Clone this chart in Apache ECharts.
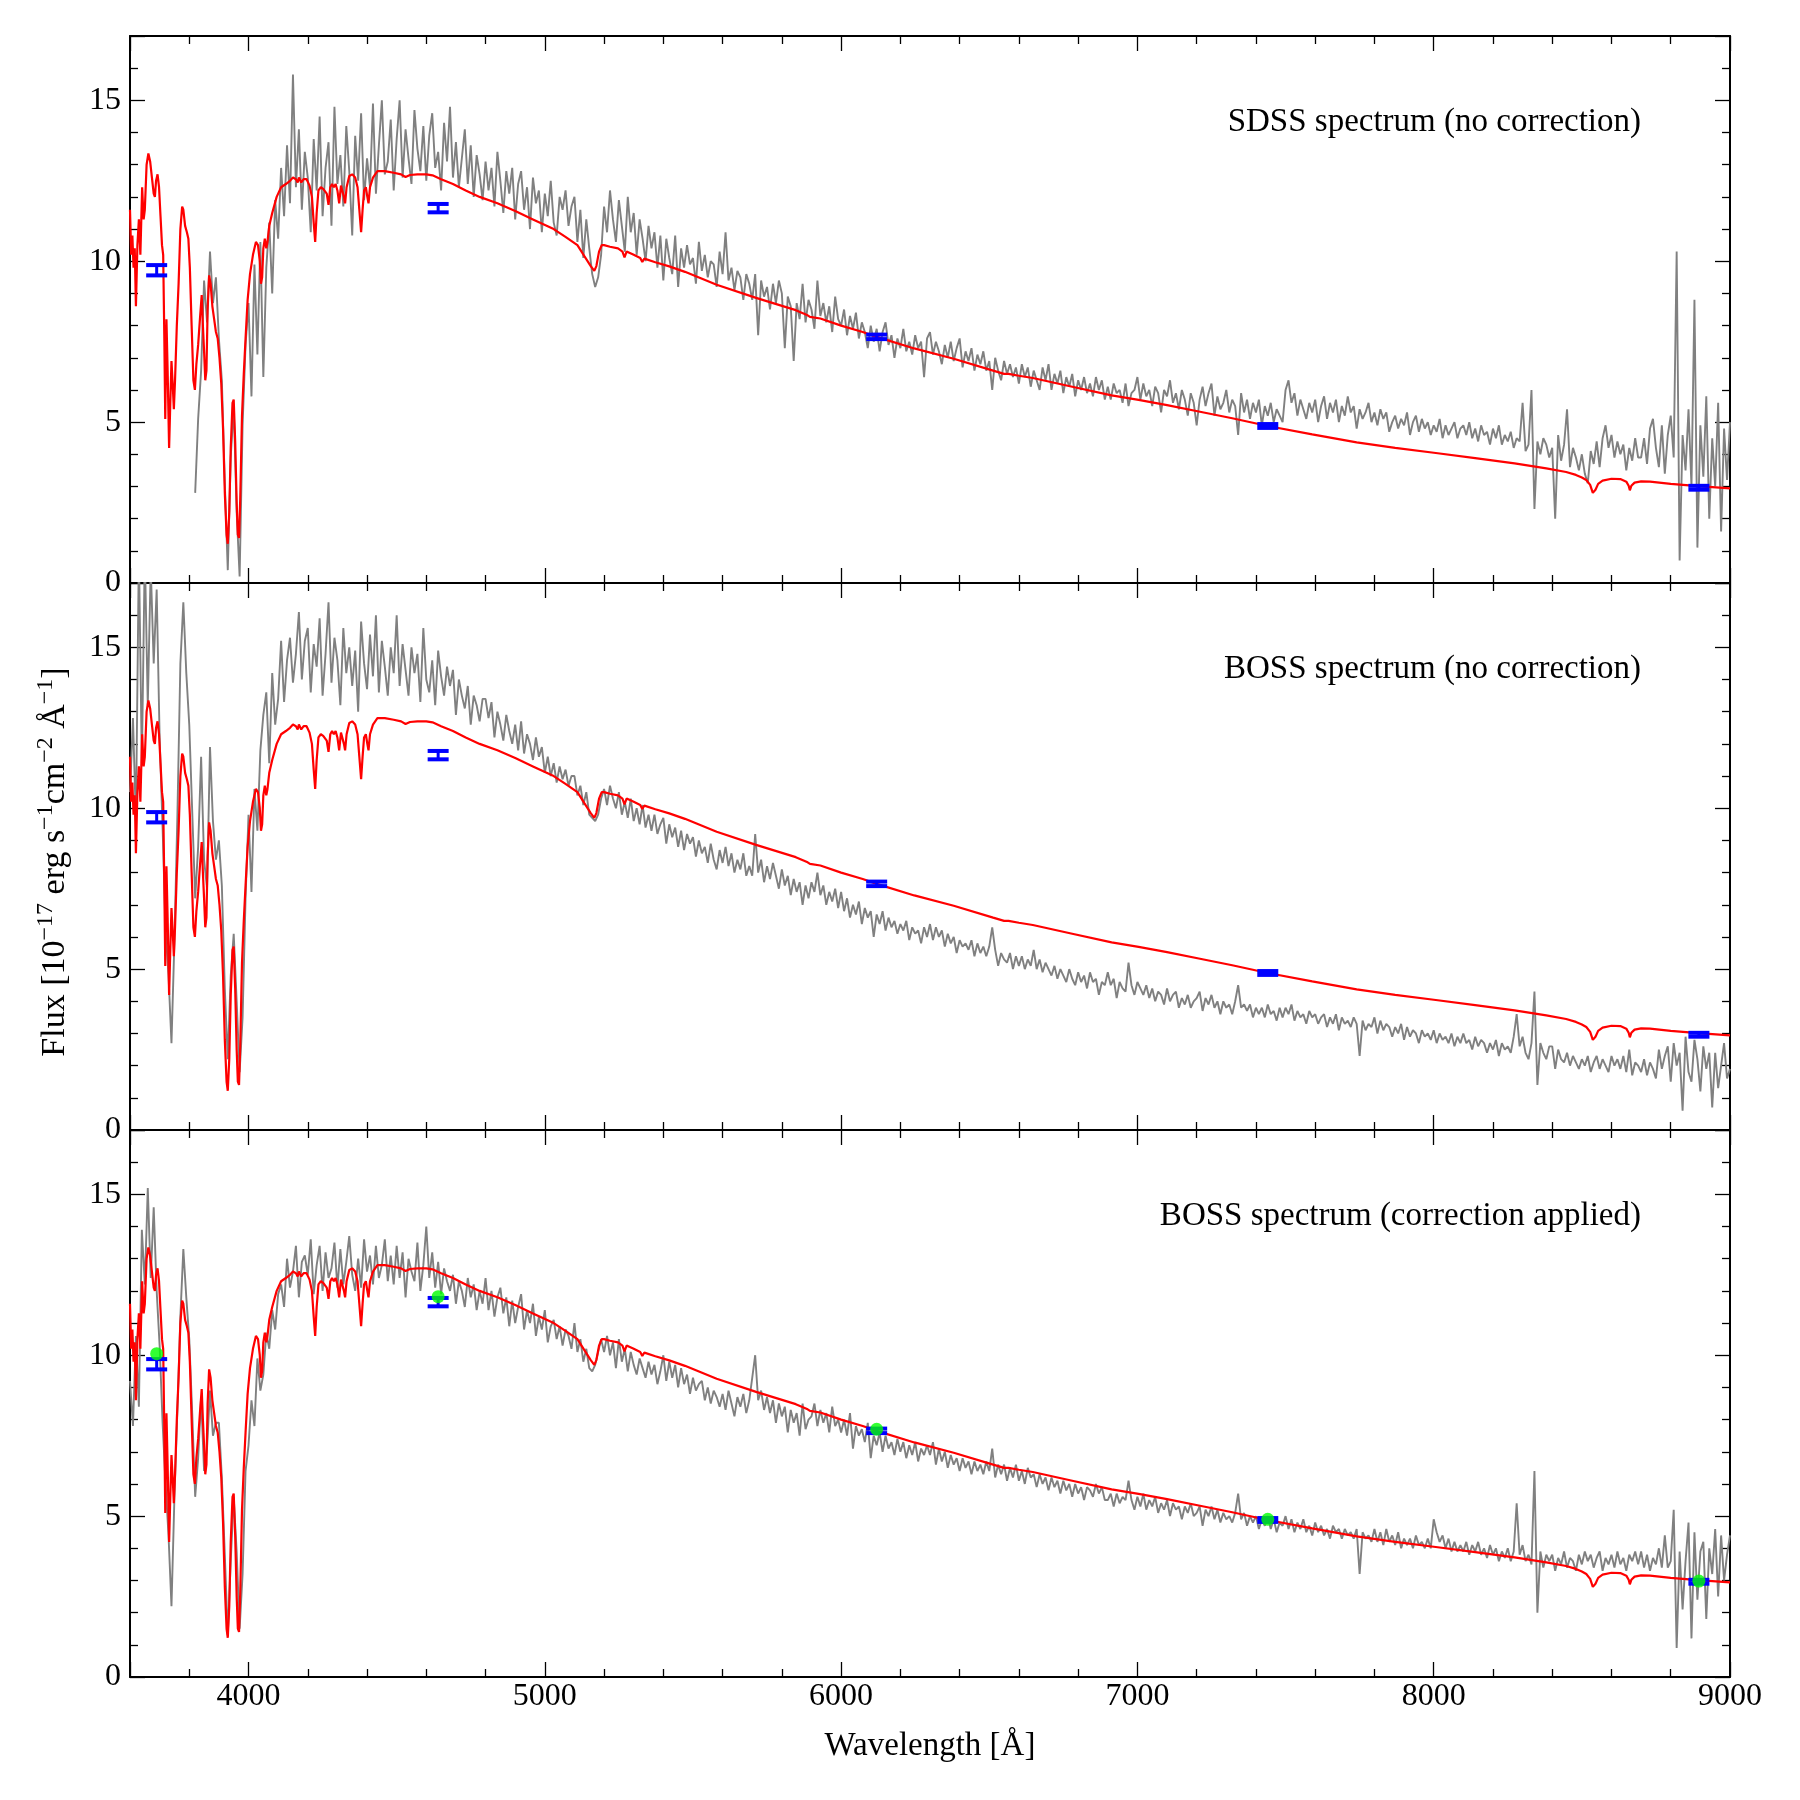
<!DOCTYPE html>
<html>
<head>
<meta charset="utf-8">
<script src="https://cdn.jsdelivr.net/npm/echarts@6/dist/echarts.min.js"></script>
<style>
html, body { margin: 0; padding: 0; background: #fff; }
#main { width: 1800px; height: 1800px; }
</style>
</head>
<body>
<div id="main"></div>
<script>
// grey spectra: one flux value every 10 A, starting at 3600 A (one row = 300 A)
var WAVE_START = 3600;
var WAVE_STEP = 10;

var sdssFlux = [
/*3600*/ null,null,null,null,null,null,null,null,null,null,null,null,null,null,null,null,null,null,null,null,null,null,2.8,5.1,6.6,9.4,8.1,10.3,8.7,9.5,
/*3900*/ 7.6,6.3,3.1,0.4,3.9,5.5,2.2,0.2,4.9,7.4,8.7,5.8,9.9,7.1,10.6,6.4,9.8,11.2,9.0,11.9,10.7,12.9,11.4,13.6,11.8,15.8,12.3,14.1,11.6,13.4,
/*4200*/ 12.6,10.9,13.8,12.2,14.5,11.4,12.9,13.7,11.1,14.8,12.4,13.3,11.7,14.2,12.8,10.8,13.9,12.5,14.6,11.9,13.2,12.3,14.9,12.1,13.6,15.0,12.7,13.1,14.4,12.2,
/*4500*/ 13.8,15.0,12.6,14.1,13.2,12.4,14.7,13.5,12.8,14.2,12.5,13.9,14.6,12.9,13.4,12.2,14.3,13.1,14.8,12.6,13.7,12.3,13.2,14.1,12.4,13.6,12.0,13.3,12.7,11.9,
/*4800*/ 13.1,12.2,12.9,11.7,13.4,12.5,11.5,12.8,12.1,12.9,11.3,12.4,12.8,11.6,12.3,11.0,12.6,11.8,12.2,10.9,12.1,11.4,12.5,11.2,10.8,12.0,11.6,12.2,11.1,11.7,
/*5100*/ 12.0,10.6,11.6,10.1,11.3,10.4,9.6,9.2,9.5,10.2,11.7,10.9,12.2,11.3,10.6,11.9,11.1,10.3,12.0,10.9,11.5,10.2,11.3,10.7,10.0,11.1,10.4,10.9,9.8,10.8,
/*5400*/ 9.4,10.7,10.1,9.6,10.8,9.2,10.4,9.8,10.5,9.9,10.1,9.3,10.6,9.7,10.2,9.5,10.0,9.9,9.2,10.3,9.6,10.9,9.4,9.8,9.1,9.7,9.5,8.8,9.6,9.3,
/*5700*/ 8.8,9.6,7.7,9.4,8.9,9.2,8.5,9.3,8.7,9.4,9.0,7.3,8.9,8.6,6.9,8.7,8.2,9.3,8.1,8.8,8.5,7.9,9.4,8.3,8.7,8.1,8.6,7.8,8.9,8.2,
/*6000*/ 8.0,8.5,7.7,8.3,7.9,8.4,7.6,8.1,7.8,7.3,8.0,7.5,7.9,7.2,7.8,8.1,7.4,7.7,7.0,7.6,7.3,7.9,7.2,7.5,7.1,7.7,7.3,7.5,6.4,7.6,
/*6300*/ 7.8,7.1,7.5,7.2,6.8,7.4,7.0,7.5,6.9,7.3,7.6,6.7,7.2,6.9,7.3,6.6,7.1,6.8,7.2,6.6,6.9,6.0,7.0,6.6,6.3,6.9,6.5,6.8,6.4,6.7,
/*6600*/ 6.2,6.8,6.4,6.7,6.1,6.6,6.3,6.0,6.7,6.3,6.8,6.0,6.5,6.2,6.6,5.9,6.4,6.1,6.5,5.8,6.3,6.0,6.4,5.9,6.2,5.8,6.4,6.0,6.3,5.7,
/*6900*/ 6.1,5.7,6.2,5.9,6.0,5.6,6.2,5.5,5.9,6.0,6.4,5.7,6.2,5.8,6.0,5.5,6.1,5.9,5.3,6.0,5.8,6.3,5.6,5.9,5.4,6.0,5.7,5.2,5.9,5.6,
/*7200*/ 4.9,5.7,6.1,5.5,5.9,6.2,5.2,5.8,5.4,5.6,6.0,5.3,5.7,5.5,4.6,5.9,5.3,5.7,5.1,5.6,5.3,5.7,4.9,5.5,5.2,5.6,5.0,5.4,5.2,5.0,
/*7500*/ 6.0,6.3,5.6,5.9,5.2,5.7,5.4,5.1,5.6,5.3,5.7,5.0,5.5,5.8,5.1,5.6,5.3,5.7,5.0,5.5,5.2,5.8,5.3,5.5,4.8,5.4,5.1,5.3,5.6,5.0,
/*7800*/ 5.3,4.9,5.4,5.1,5.3,4.7,5.0,5.2,4.8,5.1,4.9,5.3,4.6,5.0,5.2,4.7,5.1,4.8,5.0,4.6,4.9,4.7,5.1,4.5,4.9,4.6,4.8,5.0,4.5,4.8,
/*8100*/ 4.9,4.6,5.0,4.5,4.8,4.4,4.9,4.6,4.7,4.3,4.8,4.5,4.9,4.3,4.6,4.4,4.7,4.2,4.5,4.4,5.6,4.1,4.3,6.0,2.3,4.4,4.0,4.5,4.3,3.9,
/*8400*/ 4.2,2.0,4.6,3.8,4.3,5.4,3.6,4.2,3.9,3.5,4.0,3.4,3.1,4.1,3.7,4.4,3.6,4.5,4.9,4.2,4.6,3.9,4.4,4.0,4.3,3.5,4.2,3.8,4.5,3.9,
/*8700*/ 3.9,4.5,3.7,4.8,5.1,4.2,3.6,4.9,3.4,4.6,5.2,3.9,10.3,0.7,4.6,3.5,5.4,3.0,8.8,1.1,4.9,3.3,5.8,2.0,4.5,3.0,5.6,1.6,4.8,3.2,5.0
];

var bossRawFlux = [
/*3600*/ 10.5,12.8,9.6,18.0,11.4,18.0,13.2,17.5,14.5,16.8,12.2,9.4,6.2,4.8,2.7,5.9,9.8,14.5,16.4,14.2,12.6,9.9,7.2,8.8,11.6,8.4,7.5,11.9,9.6,8.4,
/*3900*/ 9.0,7.6,4.4,2.2,4.8,6.1,4.0,1.8,3.5,7.2,9.8,7.4,10.6,9.3,11.8,12.9,13.6,11.4,14.2,12.6,13.4,15.2,13.3,14.6,15.3,13.9,14.8,16.1,14.0,15.2,
/*4200*/ 15.6,13.6,15.1,14.4,15.9,13.5,14.8,16.4,13.9,15.3,14.6,13.2,15.6,14.2,15.0,13.8,14.9,13.0,15.8,14.5,13.7,15.4,14.1,16.0,13.6,15.2,14.4,13.5,15.0,14.2,
/*4500*/ 16.0,13.8,15.1,14.3,13.5,15.0,14.2,14.8,13.3,15.6,14.0,13.6,14.6,13.2,14.9,14.1,13.5,14.4,13.8,14.3,12.9,14.0,13.5,13.1,13.8,12.6,13.5,13.2,12.7,13.4,
/*4800*/ 13.4,12.8,13.3,12.2,13.0,12.6,12.1,12.9,12.4,12.0,12.6,11.8,12.7,11.7,12.3,12.0,11.5,12.2,11.6,11.9,11.1,11.6,11.0,11.4,10.8,11.3,10.9,11.2,10.7,11.0,
/*5100*/ 11.0,10.4,10.7,10.1,10.5,9.8,9.7,9.6,9.8,10.3,10.6,10.1,10.7,10.3,10.0,10.5,9.8,10.2,9.7,10.3,9.6,10.0,9.5,10.1,9.4,9.8,9.3,9.8,9.2,9.5,
/*5400*/ 9.7,8.9,9.5,9.1,9.4,8.8,9.3,8.7,9.2,8.9,9.1,8.5,9.0,8.6,8.8,8.3,8.9,8.4,8.1,8.7,8.3,8.8,8.2,8.6,8.0,8.4,8.1,8.6,7.9,8.2,
/*5700*/ 7.9,9.2,8.0,8.4,7.7,8.2,7.8,8.3,7.9,7.5,8.1,7.6,7.9,7.3,7.8,7.4,7.7,7.0,7.6,7.2,7.7,7.4,8.0,7.3,7.6,7.0,7.4,7.1,7.5,6.9,
/*6000*/ 7.4,6.8,7.2,6.6,7.0,6.7,7.1,6.4,6.9,6.6,6.8,6.0,6.7,6.4,6.8,6.2,6.6,6.3,6.5,6.1,6.4,6.2,6.5,5.9,6.3,6.1,6.2,5.8,6.3,6.0,
/*6300*/ 6.4,5.9,6.3,6.0,6.2,5.7,6.1,5.8,6.0,5.5,5.9,5.7,5.8,5.6,5.9,5.4,5.8,5.5,5.7,5.4,5.7,6.3,5.6,5.1,5.5,5.3,5.2,5.5,5.0,5.4,
/*6600*/ 5.1,5.4,5.0,5.3,5.1,5.6,5.0,5.3,4.9,5.2,5.0,4.8,5.1,4.7,5.0,4.8,4.6,5.0,4.7,4.5,4.9,4.6,4.8,4.4,4.9,4.6,4.7,4.2,4.6,4.5,
/*6900*/ 4.9,4.5,4.7,4.1,4.6,4.4,4.3,5.2,4.5,4.2,4.6,4.4,4.2,4.5,4.1,4.4,4.0,4.3,4.2,3.9,4.4,4.0,4.2,4.3,3.8,4.1,3.9,4.2,3.8,4.0,
/*7200*/ 4.1,4.3,3.7,4.1,3.9,4.2,3.8,4.0,3.6,4.0,3.8,3.9,3.6,4.0,4.5,3.8,3.9,3.7,3.9,3.5,3.8,3.6,3.8,3.5,3.9,3.6,3.7,3.4,3.8,3.5,
/*7500*/ 3.8,3.6,3.9,3.4,3.7,3.5,3.6,3.3,3.7,3.5,3.6,3.3,3.5,3.6,3.2,3.5,3.3,3.6,3.1,3.5,3.3,3.4,3.2,3.5,3.3,2.3,3.4,3.1,3.3,3.2,
/*7800*/ 3.5,3.0,3.4,3.1,3.3,3.2,2.9,3.2,3.0,3.3,2.8,3.2,2.9,3.1,3.0,2.7,3.1,2.9,3.0,2.8,3.1,2.7,3.0,2.8,2.9,2.7,3.0,2.6,2.9,2.7,
/*8100*/ 3.0,2.7,2.8,2.5,2.9,2.6,2.8,2.7,2.4,2.7,2.5,2.8,2.3,2.7,2.5,2.6,2.4,2.9,3.6,2.6,2.9,2.4,2.2,2.7,4.3,1.4,2.7,2.4,2.2,2.6,
/*8400*/ 2.6,1.9,2.5,2.2,2.1,2.4,2.0,2.3,2.1,1.9,2.2,2.0,2.3,1.8,2.1,2.3,1.9,2.2,2.0,1.8,2.3,2.0,2.2,1.9,2.3,1.8,2.5,1.7,2.1,2.0,
/*8700*/ 1.8,2.2,1.7,2.1,1.9,1.6,2.5,1.9,2.3,2.6,1.5,2.7,2.0,2.4,0.6,2.9,1.8,1.5,2.8,2.2,1.2,2.6,1.9,2.4,0.7,2.4,1.3,2.0,2.7,1.6,1.9
];

var bossCorFlux = [
/*3600*/ 9.2,7.8,10.6,8.4,13.9,12.2,15.2,12.4,14.6,12.0,10.3,7.9,6.0,4.4,2.2,5.6,8.3,11.2,13.3,11.8,10.5,8.2,5.6,6.8,8.7,6.4,7.1,8.9,7.5,7.9,
/*3900*/ 7.9,6.2,3.8,1.3,3.6,5.6,3.9,1.5,3.2,6.4,7.2,8.6,7.8,9.9,8.9,9.4,10.7,10.2,11.4,10.8,11.9,12.2,11.5,13.0,12.1,12.6,13.4,11.8,12.9,13.1,
/*4200*/ 12.5,13.6,11.9,12.8,13.4,12.0,13.2,12.4,12.7,13.5,12.1,13.3,12.2,12.9,13.7,12.5,12.0,13.0,12.1,13.6,12.6,13.1,12.2,13.4,12.4,12.8,13.6,12.3,13.1,12.2,
/*4500*/ 13.4,12.4,13.2,11.8,13.0,12.6,12.3,13.5,12.0,12.8,14.0,12.4,13.2,12.1,12.9,11.9,12.7,12.3,12.0,12.5,11.6,12.3,12.0,11.5,12.4,11.8,12.2,11.4,12.0,11.6,
/*4800*/ 12.4,11.4,12.0,11.2,11.8,12.1,11.3,11.8,10.9,11.7,11.0,11.5,11.9,10.8,11.4,11.0,11.6,10.6,11.2,10.8,11.4,10.4,10.9,11.1,10.5,10.9,10.3,10.8,10.6,10.2,
/*5100*/ 11.0,10.1,10.5,9.8,10.2,9.6,9.5,9.7,10.1,10.5,10.1,10.6,10.0,10.4,9.6,10.5,9.8,10.2,9.5,10.1,9.7,9.4,9.9,9.6,9.3,9.8,9.4,9.7,9.1,9.5,
/*5400*/ 10.0,9.2,9.8,9.3,9.7,9.0,9.6,9.1,9.4,8.8,9.3,8.9,9.1,9.2,8.6,9.0,8.5,8.9,8.7,8.4,8.8,8.3,8.9,8.5,8.1,8.7,8.4,8.8,8.2,8.6,
/*5700*/ 9.3,10.0,8.6,8.9,8.3,8.7,8.2,8.6,7.9,8.5,8.1,8.4,7.6,8.3,7.9,8.2,7.5,8.5,7.7,8.0,8.1,8.5,7.8,8.3,7.9,8.2,7.6,8.4,7.8,8.0,
/*6000*/ 7.6,8.0,7.5,8.2,7.1,7.8,7.5,7.7,7.3,7.9,6.8,7.5,7.2,7.6,7.0,7.5,7.1,7.3,6.9,7.4,7.0,7.3,6.8,7.2,6.9,7.3,6.7,7.1,6.9,7.2,
/*6300*/ 6.9,7.3,6.6,7.1,6.7,7.0,6.5,6.9,6.6,6.8,6.4,6.8,6.5,6.7,6.3,6.7,6.4,6.6,6.3,6.7,6.4,7.1,6.2,6.6,6.3,6.6,6.1,6.5,6.2,6.6,
/*6600*/ 6.1,6.4,6.0,6.5,6.2,6.3,5.9,6.3,6.0,6.2,5.8,6.2,5.9,6.1,5.7,6.1,5.8,6.0,5.6,6.0,5.7,5.9,5.5,5.9,5.8,5.6,6.0,5.7,5.9,5.5,
/*6900*/ 5.5,5.7,5.3,5.7,5.4,5.6,5.5,6.1,5.5,5.2,5.6,5.3,5.7,5.2,5.5,5.3,5.6,5.1,5.4,5.2,5.5,5.0,5.4,5.2,5.3,4.9,5.3,5.1,5.4,5.0,
/*7200*/ 5.1,5.3,4.7,5.2,5.0,5.3,4.9,5.2,4.8,5.1,4.9,5.0,4.8,5.1,5.7,4.9,5.1,4.7,5.0,4.8,5.0,4.6,4.9,4.7,5.0,4.6,4.9,4.5,4.8,4.7,
/*7500*/ 5.0,4.6,4.9,4.5,4.8,4.6,4.9,4.5,4.7,4.4,4.8,4.5,4.7,4.4,4.6,4.3,4.7,4.5,4.6,4.3,4.6,4.4,4.5,4.3,4.6,3.2,4.5,4.3,4.4,4.2,
/*7800*/ 4.6,4.2,4.5,4.1,4.6,4.2,4.4,4.1,4.5,4.0,4.3,4.1,4.3,4.0,4.4,4.1,4.2,4.0,4.3,4.0,4.9,4.5,4.2,4.4,4.0,4.3,3.9,4.2,3.9,4.1,
/*8100*/ 3.9,4.2,3.8,4.1,3.9,4.2,3.8,4.0,3.7,4.1,3.8,4.0,3.6,3.9,3.7,4.0,3.6,3.9,5.4,3.8,4.1,3.6,3.8,3.5,6.4,2.0,3.9,3.4,3.8,3.6,
/*8400*/ 3.8,3.3,3.7,3.5,3.9,3.4,3.7,3.6,3.3,3.8,3.5,3.9,3.6,3.8,3.4,3.7,3.9,3.3,3.7,3.5,3.8,3.4,3.9,3.5,3.7,3.3,3.8,3.6,3.9,3.5,
/*8700*/ 3.9,3.4,3.8,3.3,3.7,3.5,4.0,3.4,4.4,3.4,3.6,5.2,0.9,3.9,2.1,3.6,4.8,1.2,4.5,2.4,3.9,4.2,1.8,4.0,3.2,4.6,2.5,4.4,3.0,3.8,4.4
];

// model spectrum (red), [wavelength, flux]
var modelSpectrum = [
[3600,11.6],[3604,10.2],[3608,10.8],[3612,9.8],[3616,10.4],[3620,8.6],[3625,10.5],[3630,11.3],[3635,10.2],
[3641,12.3],[3646,11.3],[3650,11.6],[3656,13.0],[3662,13.35],[3668,13.1],[3674,12.6],[3680,12.1],[3684,12.0],
[3688,12.5],[3693,12.7],[3698,12.3],[3703,11.4],[3708,10.5],[3712,10.2],[3716,7.5],[3719,5.1],[3723,8.2],
[3727,6.6],[3732,4.2],[3736,5.6],[3740,6.9],[3744,6.2],[3748,5.4],[3752,6.3],[3758,8.0],[3764,9.3],[3770,11.0],
[3776,11.7],[3780,11.6],[3786,11.1],[3792,10.9],[3797,10.7],[3802,9.8],[3808,8.0],[3814,6.3],[3819,6.0],
[3824,6.8],[3830,7.4],[3836,8.2],[3842,8.95],[3846,8.0],[3850,7.2],[3854,6.3],[3858,6.6],[3862,8.5],[3867,9.56],
[3872,9.3],[3878,8.6],[3884,8.2],[3890,7.8],[3896,7.6],[3902,7.0],[3908,6.2],[3914,4.8],[3920,2.8],[3926,1.5],
[3930,1.22],[3935,2.2],[3940,4.2],[3946,5.6],[3950,5.7],[3955,4.4],[3960,2.5],[3964,1.5],[3968,1.4],[3972,2.6],
[3978,5.2],[3984,6.5],[3990,7.6],[3997,8.8],[4005,9.6],[4015,10.2],[4025,10.6],[4032,10.5],[4038,10.0],
[4042,9.3],[4046,9.5],[4050,10.4],[4055,10.7],[4060,10.4],[4064,10.6],[4070,11.1],[4080,11.5],[4095,12.0],
[4110,12.3],[4126,12.4],[4140,12.5],[4150,12.6],[4160,12.55],[4166,12.45],[4170,12.6],[4178,12.45],[4186,12.55],
[4196,12.55],[4206,12.35],[4214,12.0],[4220,11.2],[4225,10.6],[4230,11.5],[4236,12.2],[4244,12.3],[4252,12.25],
[4258,12.3],[4264,12.1],[4270,11.75],[4276,12.3],[4282,12.4],[4288,12.3],[4294,12.4],[4300,12.2],[4306,11.8],
[4312,12.35],[4318,12.3],[4322,12.0],[4326,11.8],[4331,12.3],[4340,12.65],[4350,12.7],[4360,12.6],[4368,12.3],
[4374,11.6],[4380,10.9],[4385,11.6],[4390,12.2],[4396,12.3],[4401,12.0],[4405,11.8],[4410,12.3],[4420,12.6],
[4435,12.8],[4460,12.8],[4490,12.75],[4515,12.7],[4530,12.62],[4545,12.68],[4570,12.7],[4600,12.7],[4621,12.67],
[4650,12.55],[4690,12.4],[4733,12.2],[4780,12.0],[4840,11.8],[4902,11.55],[4960,11.3],[5030,11.0],[5071,10.75],
[5110,10.5],[5134,10.15],[5155,9.85],[5167,9.7],[5174,9.85],[5183,10.3],[5192,10.5],[5200,10.5],[5220,10.45],
[5247,10.4],[5262,10.3],[5269,10.12],[5276,10.3],[5300,10.2],[5322,10.1],[5329,9.98],[5336,10.08],[5373,9.97],
[5420,9.84],[5473,9.67],[5580,9.27],[5713,8.86],[5847,8.48],[5887,8.32],[5895,8.27],[5930,8.22],[6000,8.0],
[6073,7.8],[6120,7.65],[6247,7.29],[6380,6.97],[6513,6.6],[6550,6.5],[6565,6.5],[6600,6.44],[6647,6.37],
[6780,6.1],[6913,5.83],[7004,5.69],[7100,5.53],[7207,5.33],[7320,5.12],[7440,4.88],[7590,4.62],[7740,4.37],
[7870,4.2],[8007,4.04],[8140,3.88],[8273,3.72],[8380,3.56],[8447,3.45],[8480,3.36],[8500,3.28],[8515,3.2],
[8528,3.05],[8537,2.8],[8541,2.75],[8546,2.9],[8555,3.08],[8570,3.18],[8600,3.24],[8630,3.23],[8650,3.15],
[8658,3.02],[8662,2.88],[8667,3.02],[8678,3.12],[8700,3.16],[8730,3.15],[8800,3.08],[8893,3.01],[9000,2.94]
];

// photometry (blue error bars) and synthetic photometry (green dots)
var photWave = [3690, 4640, 6120, 7440, 8895];
var photFlux = [9.72, 11.65, 7.65, 4.88, 2.96];
var photErr = [0.16, 0.13, 0.07, 0.06, 0.06];
var synthFlux = [10.05, 11.82, 7.70, 4.90, 2.98];

var panelLabels = ["SDSS spectrum (no correction)", "BOSS spectrum (no correction)", "BOSS spectrum (correction applied)"];

var FONT = '"Liberation Serif", "DejaVu Serif", serif';
var panelTops = [36, 583, 1130];
var PANEL_H = 547;

function spectrumPairs(flux) {
	var out = [];
	for (var k = 0; k < flux.length; k++) {
		if (flux[k] == null) continue;
		out.push([WAVE_START + k * WAVE_STEP, flux[k]]);
	}
	return out;
}

function axisX(i, pos, labels) {
	return {
		type: 'value', gridIndex: i, position: pos, min: 3600, max: 9000, splitNumber: 5,
		axisLine: { show: true, onZero: false, lineStyle: { color: '#000', width: 2 } },
		axisTick: { show: true, inside: true, length: 15, lineStyle: { color: '#000', width: 1.3 } },
		minorTick: { show: true, splitNumber: 5, length: 8, lineStyle: { color: '#000', width: 1.3 } },
		axisLabel: {
			show: labels, margin: 4, color: '#000', fontFamily: FONT, fontSize: 32,
			formatter: function (v) { return v % 1000 === 0 ? String(v) : ''; }
		},
		splitLine: { show: false }
	};
}

function axisY(i, pos, labels) {
	return {
		type: 'value', gridIndex: i, position: pos, min: 0, max: 17, interval: 5,
		axisLine: { show: true, onZero: false, lineStyle: { color: '#000', width: 2 } },
		axisTick: { show: true, inside: true, length: 15, lineStyle: { color: '#000', width: 1.3 } },
		minorTick: { show: true, splitNumber: 5, length: 8, lineStyle: { color: '#000', width: 1.3 } },
		axisLabel: {
			show: labels, margin: 9, color: '#000', fontFamily: FONT, fontSize: 32,
			formatter: function (v) { return v % 5 === 0 ? String(v) : ''; }
		},
		splitLine: { show: false }
	};
}

function renderErrBar(params, api) {
	var x = api.value(0), y = api.value(1), e = api.value(2);
	var lo = api.coord([x, y - e]);
	var hi = api.coord([x, y + e]);
	var hw = 10.5, th = 4;
	return {
		type: 'group',
		children: [
			{ type: 'line', shape: { x1: lo[0], y1: lo[1], x2: hi[0], y2: hi[1] }, style: { stroke: '#0000ff', lineWidth: 3 } },
			{ type: 'rect', shape: { x: lo[0] - hw, y: lo[1] - th / 2, width: 2 * hw, height: th }, style: { fill: '#0000ff' } },
			{ type: 'rect', shape: { x: hi[0] - hw, y: hi[1] - th / 2, width: 2 * hw, height: th }, style: { fill: '#0000ff' } }
		]
	};
}

var spectra = [sdssFlux, bossRawFlux, bossCorFlux];
var errData = [], synthData = [];
for (var p = 0; p < photWave.length; p++) {
	errData.push([photWave[p], photFlux[p], photErr[p]]);
	synthData.push([photWave[p], synthFlux[p]]);
}

var grids = [], xAxes = [], yAxes = [], series = [], graphics = [];
for (var i = 0; i < 3; i++) {
	grids.push({ left: 130, top: panelTops[i], width: 1600, height: PANEL_H });
	xAxes.push(axisX(i, 'bottom', i === 2));
	xAxes.push(axisX(i, 'top', false));
	yAxes.push(axisY(i, 'left', true));
	yAxes.push(axisY(i, 'right', false));

	series.push({
		type: 'line', xAxisIndex: 2 * i, yAxisIndex: 2 * i, data: spectrumPairs(spectra[i]),
		symbol: 'none', showSymbol: false, lineStyle: { color: '#808080', width: 1.9 }, z: 2, silent: true
	});
	series.push({
		type: 'line', xAxisIndex: 2 * i, yAxisIndex: 2 * i, data: modelSpectrum,
		symbol: 'none', showSymbol: false, lineStyle: { color: '#ff0000', width: 2.2 }, z: 3, silent: true
	});
	series.push({
		type: 'custom', xAxisIndex: 2 * i, yAxisIndex: 2 * i, data: errData,
		renderItem: renderErrBar, encode: { x: 0, y: 1 }, z: 4, silent: true
	});
	if (i === 2) {
		series.push({
			type: 'scatter', xAxisIndex: 2 * i, yAxisIndex: 2 * i, data: synthData,
			symbol: 'circle', symbolSize: 13, itemStyle: { color: '#00ff00' }, z: 5, silent: true
		});
	}

	graphics.push({
		type: 'text', x: 1641, y: panelTops[i] + 86.5,
		style: { text: panelLabels[i], fontFamily: FONT, fontSize: 33, fill: '#000', align: 'right', verticalAlign: 'middle' }
	});
}

graphics.push({
	type: 'text', x: 930, y: 1746,
	style: { text: 'Wavelength [Å]', fontFamily: FONT, fontSize: 33, fill: '#000', align: 'center', verticalAlign: 'middle' }
});
graphics.push({
	type: 'text', x: 55, y: 862, rotation: Math.PI / 2,
	style: {
		text: 'Flux [10{sup|\u221217} erg s{sup|\u22121}cm{sup|\u22122} Å{sup|\u22121}]',
		fontFamily: FONT, fontSize: 34, lineHeight: 42, fill: '#000', align: 'center', verticalAlign: 'middle',
		rich: { sup: { fontFamily: FONT, fontSize: 24, lineHeight: 20, verticalAlign: 'top', fill: '#000' } }
	}
});

var chart = echarts.init(document.getElementById('main'), null, { renderer: 'canvas' });
chart.setOption({
	animation: false,
	backgroundColor: '#fff',
	textStyle: { fontFamily: FONT },
	grid: grids,
	xAxis: xAxes,
	yAxis: yAxes,
	series: series,
	graphic: graphics
});
</script>
</body>
</html>
